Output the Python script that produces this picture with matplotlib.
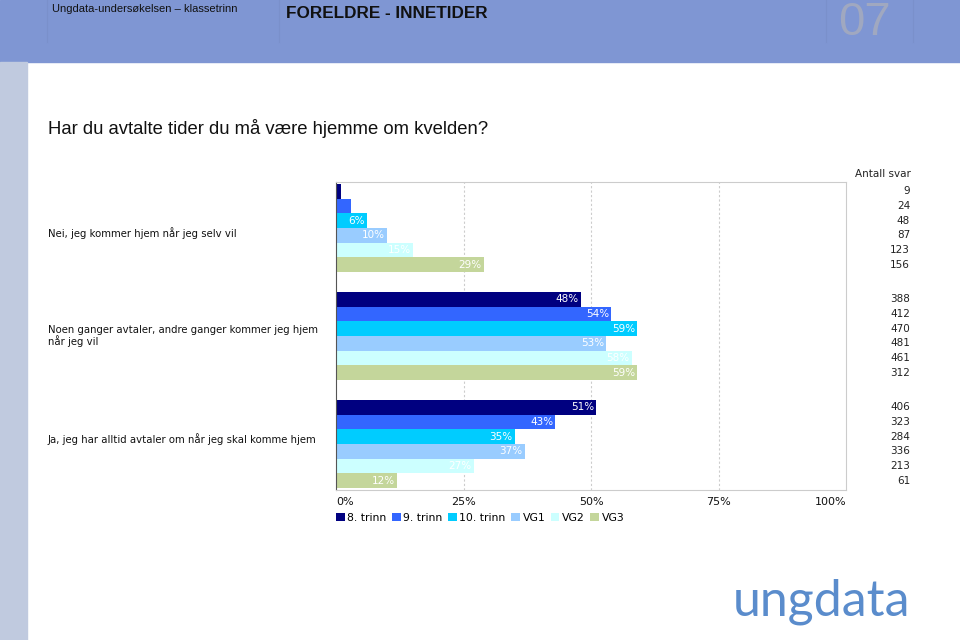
import matplotlib.pyplot as plt
from matplotlib.patches import Rectangle
import matplotlib.transforms as mtransforms
import numpy as np

# data
svar = ['Nei, jeg kommer hjem når jeg selv vil',
        'Noen ganger avtaler, andre ganger kommer jeg hjem\nnår jeg vil',
        'Ja, jeg har alltid avtaler om når jeg skal komme hjem']
trinn = ['8. trinn', '9. trinn', '10. trinn', 'VG1', 'VG2', 'VG3']
prosent = [[1, 3, 6, 10, 15, 29],
           [48, 54, 59, 53, 58, 59],
           [51, 43, 35, 37, 27, 12]]
antall = [[9, 24, 48, 87, 123, 156],
          [388, 412, 470, 481, 461, 312],
          [406, 323, 284, 336, 213, 61]]
farger = ['#000080', '#3366ff', '#00ccff', '#99ccff', '#ccffff', '#c4d69b']

fig = plt.figure(figsize=(9.6, 6.4), dpi=100)

# header band, side strip
fig.patches.append(Rectangle((0, 1 - 62/640), 1, 62/640, transform=fig.transFigure,
                             color='#7f96d3', zorder=0))
fig.patches.append(Rectangle((0, 0), 27/960, 1 - 62/640, transform=fig.transFigure,
                             color='#c0cadf', zorder=0))
for xl in [47, 279, 826, 913]:
    fig.add_artist(plt.Line2D([xl/960, xl/960], [1 - 42/640, 1], transform=fig.transFigure,
                              color='#7a90cb', lw=0.8))
hfont = ['Liberation Sans', 'DejaVu Sans']
fig.text(52/960, 1 - 9/640, 'Ungdata-undersøkelsen – klassetrinn', family=hfont,
         fontsize=8, va='center', ha='left', color='#111111')
fig.text(286/960, 1 - 14/640, 'FORELDRE - INNETIDER', family=hfont, fontweight='bold',
         fontsize=12.3, va='center', ha='left', color='#111111')
fig.text(838/960, 1 - 23/640, '07', family=hfont, fontsize=34, va='center', ha='left',
         color='#a0a8c0')

fig.text(48/960, 1 - 128/640, 'Har du avtalte tider du må være hjemme om kvelden?',
         family=hfont, fontsize=13.3, va='center', ha='left', color='#111111')

ax = fig.add_axes([336/960, 1 - 490/640, 510/960, 308/640])

starts = [0, 7.36, 14.73]
label_pos = [3.35, 3.0, 2.65]
for g in range(len(svar)):
    ys = starts[g] + np.arange(len(trinn)) + 0.5
    for i in range(len(trinn)):
        v = prosent[g][i]
        ax.barh(ys[i], v, height=1.0, color=farger[i], label=trinn[i] if g == 0 else None,
                zorder=2)
        if v >= 5:
            ax.text(v - 0.4, ys[i], f'{v}%', ha='right', va='center', color='white',
                    fontsize=7.5, zorder=3)
        ax.text(910/960, ys[i], str(antall[g][i]), ha='right', va='center', fontsize=7.5,
                color='#222222', transform=mtransforms.blended_transform_factory(
                    fig.transFigure, ax.transData))
    ax.text(48/960, starts[g] + label_pos[g], svar[g], ha='left', va='center', fontsize=7.3,
            color='#111111', linespacing=1.05,
            transform=mtransforms.blended_transform_factory(fig.transFigure, ax.transData))

fig.text(855/960, 1 - 174/640, 'Antall svar', ha='left', va='center', fontsize=7.5,
         color='#222222')

ax.set_xlim(0, 100)
ax.set_ylim(20.86, -0.136)
ax.set_yticks([])
ax.set_xticks([0, 25, 50, 75, 100])
ax.set_xticklabels(['0%', '25%', '50%', '75%', '100%'], fontsize=8)
tl = ax.get_xticklabels()
tl[0].set_ha('left')
tl[-1].set_ha('right')
ax.tick_params(axis='x', length=0, pad=5, colors='#111111')
for x in [25, 50, 75]:
    ax.axvline(x, color='#cccccc', lw=0.8, ls=(0, (2, 2)), zorder=1)
for s in ['top', 'right', 'bottom']:
    ax.spines[s].set_color('#cccccc')
ax.spines['left'].set_color('#555555')

ax.legend(loc='upper left', bbox_to_anchor=(0, -0.075), ncol=6, frameon=False,
          fontsize=7.8, handlelength=0.8, handleheight=0.8, handletextpad=0.25,
          columnspacing=0.5, borderaxespad=0, borderpad=0)

fig.text(733/960, 1 - 602/640, 'ungdata', family=['Lato', 'DejaVu Sans'],
         fontsize=36, color='#5a8ccc', ha='left', va='center')

fig.savefig('out.png', dpi=100)
